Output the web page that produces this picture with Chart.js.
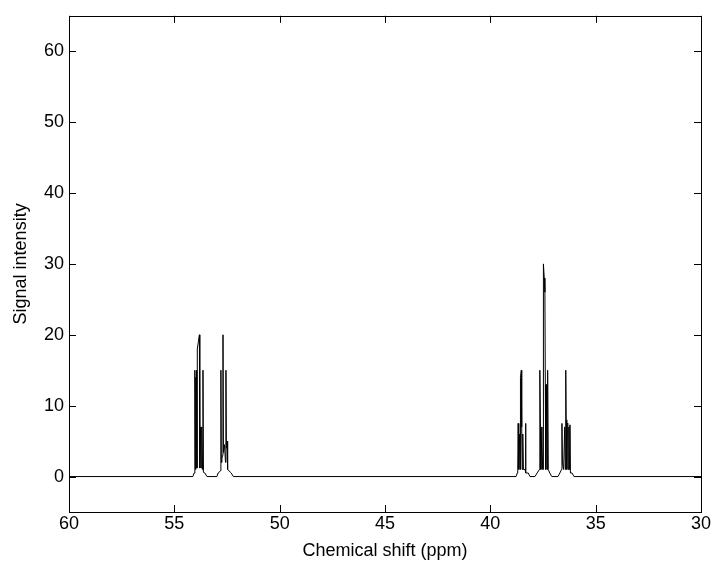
<!DOCTYPE html>
<html>
<head>
<meta charset="utf-8">
<script src="https://cdn.jsdelivr.net/npm/chart.js@4/dist/chart.umd.min.js"></script>
<style>
html,body{margin:0;padding:0;background:#fff;}
#wrap{width:717px;height:567px;}
</style>
</head>
<body>
<div id="wrap"><canvas id="c" width="717" height="567"></canvas></div>
<script>
// Tick labels
const xTicks = [60, 55, 50, 45, 40, 35, 30];
const yTicks = [0, 10, 20, 30, 40, 50, 60];

// Spectrum trace vertices (ppm, signal intensity)
const baselineStartPpm = [60];
const baselineStartInt = [0];

const group1Ppm = [54.12, 54.06, 54.03, 54.02, 54.00, 53.98, 53.96, 53.94, 53.92, 53.91, 53.86, 53.81, 53.79, 53.76, 53.73, 53.70, 53.66, 53.64, 53.62, 53.55, 53.45];
const group1Int = [0, 0.5, 0.6, 15, 1.0, 14, 1.2, 15, 1.2, 18, 19, 20, 1.2, 7, 1.2, 7, 1.0, 15, 0.6, 0.5, 0];

const group2Ppm = [52.98, 52.92, 52.81, 52.79, 52.77, 52.74, 52.71, 52.69, 52.67, 52.62, 52.57, 52.55, 52.53, 52.51, 52.49, 52.48, 52.46, 52.30, 52.20];
const group2Int = [0, 0.5, 0.8, 15, 2, 2.5, 3, 20, 3.4, 4.5, 2, 15, 4, 5, 4, 5, 1, 0.5, 0];

const group3Ppm = [38.78, 38.72, 38.70, 38.68, 38.66, 38.64, 38.61, 38.59, 38.57, 38.53, 38.51, 38.49, 38.46, 38.43, 38.35, 38.33, 38.31, 38.20, 38.12];
const group3Int = [0, 0.5, 1, 7.5, 6, 1, 6, 1, 14, 15, 7, 1, 6, 1, 1, 7.5, 0.5, 0.5, 0];

const group4Ppm = [37.88, 37.78, 37.67, 37.65, 37.62, 37.60, 37.55, 37.52, 37.50, 37.48, 37.44, 37.41, 37.39, 37.37, 37.34, 37.31, 37.29, 37.27, 37.25, 37.18, 37.08];
const group4Int = [0, 0.5, 1, 15, 7, 1, 7, 1, 1, 30, 28, 26, 13, 1, 13, 1, 1, 15, 1, 0.5, 0];

const group5Ppm = [36.79, 36.70, 36.62, 36.60, 36.58, 36.52, 36.47, 36.44, 36.42, 36.40, 36.37, 36.35, 36.32, 36.30, 36.27, 36.24, 36.22, 36.20, 36.12, 36.03];
const group5Int = [0, 0.5, 1, 7.5, 2, 1, 7, 1, 15, 8, 1, 7.5, 7.4, 1, 7, 1, 7.3, 0.5, 0.5, 0];

const baselineEndPpm = [30];
const baselineEndInt = [0];

const allPpm = [].concat(baselineStartPpm, group1Ppm, group2Ppm, group3Ppm, group4Ppm, group5Ppm, baselineEndPpm);
const allInt = [].concat(baselineStartInt, group1Int, group2Int, group3Int, group4Int, group5Int, baselineEndInt);
const points = allPpm.map((p, i) => ({x: p, y: allInt[i]}));

const FONT = '"Liberation Sans", Arial, Helvetica, sans-serif';

const frameTicks = {
  id: 'frameTicks',
  afterDraw(chart) {
    const {ctx, chartArea: a, scales} = chart;
    const L = 7;
    ctx.save();
    ctx.strokeStyle = '#000';
    ctx.lineWidth = 1;
    ctx.beginPath();
    scales.x.ticks.forEach(t => {
      const px = Math.round(scales.x.getPixelForValue(t.value)) + 0.5;
      ctx.moveTo(px, a.bottom); ctx.lineTo(px, a.bottom - L);
      ctx.moveTo(px, a.top); ctx.lineTo(px, a.top + L);
    });
    scales.y.ticks.forEach(t => {
      const py = Math.round(scales.y.getPixelForValue(t.value)) + 0.5;
      ctx.moveTo(a.left, py); ctx.lineTo(a.left + L, py);
      ctx.moveTo(a.right, py); ctx.lineTo(a.right - L, py);
    });
    ctx.stroke();
    ctx.strokeRect(Math.round(a.left) + 0.5, Math.round(a.top) + 0.5, Math.round(a.right - a.left), Math.round(a.bottom - a.top));
    ctx.restore();
  }
};

new Chart(document.getElementById('c'), {
  type: 'line',
  data: {
    datasets: [{
      data: points,
      borderColor: '#000',
      borderWidth: 1,
      pointRadius: 0,
      tension: 0,
      fill: false
    }]
  },
  options: {
    responsive: false,
    animation: false,
    devicePixelRatio: 1,
    layout: {padding: {top: 14, right: 16, left: 0, bottom: 0}},
    plugins: {legend: {display: false}, tooltip: {enabled: false}},
    scales: {
      x: {
        type: 'linear',
        reverse: true,
        min: 30, max: 60,
        afterBuildTicks: s => { s.ticks = xTicks.map(v => ({value: v})); },
        afterFit: s => { s.height = 55; },
        grid: {display: true, drawOnChartArea: false, drawTicks: false},
        border: {display: false},
        ticks: {color: '#000', font: {family: FONT, size: 18}, padding: 1, maxRotation: 0,
          callback: v => String(v)},
        title: {display: true, text: 'Chemical shift (ppm)', color: '#000',
          font: {family: FONT, size: 18}, padding: {top: 0, bottom: 5}}
      },
      y: {
        type: 'linear',
        min: -5, max: 65,
        afterBuildTicks: s => { s.ticks = yTicks.map(v => ({value: v})); },
        afterFit: s => { s.width = 69; },
        grid: {display: true, drawOnChartArea: false, drawTicks: false},
        border: {display: false},
        ticks: {color: '#000', font: {family: FONT, size: 18}, padding: 5,
          callback: v => String(v)},
        title: {display: true, text: 'Signal intensity', color: '#000',
          font: {family: FONT, size: 18}, padding: {top: 10, bottom: 0}}
      }
    }
  },
  plugins: [frameTicks]
});
</script>
</body>
</html>
